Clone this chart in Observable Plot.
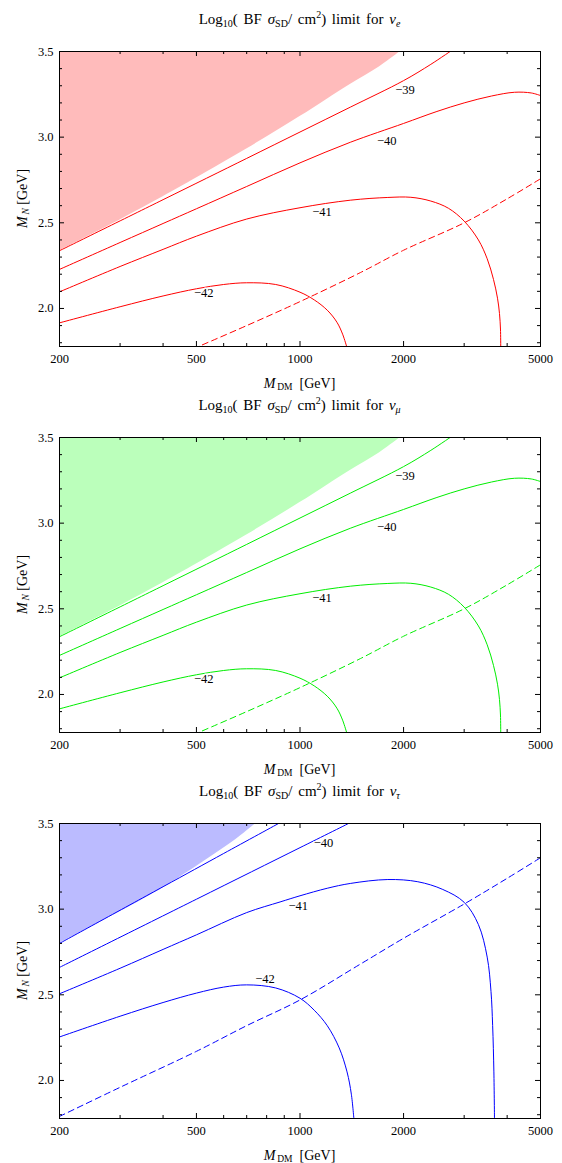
<!DOCTYPE html>
<html><head><meta charset="utf-8">
<script src="https://cdn.jsdelivr.net/npm/d3@7"></script>
<script src="https://cdn.jsdelivr.net/npm/@observablehq/plot@0.6"></script>
<style>
html,body{margin:0;padding:0;background:#fff;overflow:hidden;}
body{padding-top:6px;width:562px;}
.title{height:27px;line-height:27px;margin-left:59px;width:481px;text-align:center;font-family:"Liberation Serif",serif;font-size:15px;white-space:nowrap;word-spacing:2px;}
.title + svg + .title{margin-top:-4px;}
.title sub{font-size:10px;vertical-align:-3px;line-height:0;}
.title sup{font-size:10px;vertical-align:6px;line-height:0;}
svg{display:block;}
</style>
</head><body>
<div id="root"></div>
<script>
const FONT = "Liberation Serif, Times New Roman, serif";
// axes
const xDomain = [200, 5000];
const yDomain = [1.778, 3.5];
const xMajorTicks = [200, 500, 1000, 2000, 5000];
const xMinorTicks = [300, 400, 600, 700, 800, 900, 3000, 4000];
const yMajorTicks = [2.0, 2.5, 3.0, 3.5];
const yMinorTicks = [1.8, 1.9, 2.1, 2.2, 2.3, 2.4, 2.6, 2.7, 2.8, 2.9, 3.1, 3.2, 3.3, 3.4];

// nu_e and nu_mu panels: [M_DM (GeV), log10 M_N]
const eShade = [[200,2.337],[300,2.517],[400,2.652],[500,2.761],[700,2.931],[1000,3.12],[1400,3.308],[1700,3.41],[2000,3.514]];
const e39 = [[200,2.337],[400,2.635],[700,2.876],[1000,3.03],[1400,3.175],[2000,3.33],[2400,3.425],[2800,3.515]];
const e40 = [[200,2.228],[300,2.385],[400,2.496],[500,2.582],[700,2.712],[1000,2.85],[1400,2.97],[2000,3.08],[2500,3.15],[3000,3.20],[3600,3.24],[4200,3.262],[4700,3.258],[5000,3.243]];
const e41 = [[200,2.097],[300,2.245],[400,2.345],[500,2.422],[700,2.522],[1000,2.588],[1400,2.632],[1800,2.648],[2100,2.649],[2400,2.627],[2700,2.585],[3000,2.51],[3300,2.40],[3500,2.29],[3650,2.17],[3750,2.06],[3800,1.97],[3825,1.88],[3832,1.77]];
const e42 = [[200,1.916],[300,2.01],[400,2.073],[500,2.115],[600,2.14],[700,2.15],[850,2.14],[1000,2.095],[1100,2.05],[1200,1.99],[1280,1.92],[1330,1.85],[1370,1.77]];
const eDash = [[490,1.765],[700,1.90],[1000,2.04],[1500,2.21],[2000,2.34],[3000,2.50],[4000,2.64],[5000,2.757]];
const eLabels = [["\u221239",2020,3.277],["\u221240",1786,2.98],["\u221241",1159,2.565],["\u221242",525,2.088]];

// nu_tau panel
const tShade = [[200,2.80],[281,2.955],[393,3.115],[536,3.29],[650,3.405],[750,3.505]];
const t39 = [[200,2.80],[400,3.131],[600,3.325],[870,3.502]];
const t40 = [[200,2.66],[500,3.058],[1000,3.359],[1400,3.505]];
const t41 = [[200,2.506],[300,2.655],[400,2.765],[500,2.85],[700,2.98],[875,3.042],[1000,3.078],[1200,3.122],[1400,3.15],[1800,3.173],[2200,3.16],[2600,3.115],[3000,3.04],[3300,2.91],[3500,2.72],[3590,2.52],[3630,2.32],[3660,2.05],[3675,1.77]];
const t42 = [[200,2.254],[300,2.375],[400,2.455],[500,2.51],[600,2.545],[700,2.558],[850,2.54],[1000,2.48],[1100,2.41],[1200,2.32],[1300,2.19],[1370,2.05],[1410,1.92],[1435,1.77]];
const tDash = [[200,1.79],[300,1.96],[500,2.17],[700,2.32],[1000,2.47],[1500,2.68],[2000,2.83],[3000,3.03],[4000,3.18],[5000,3.30]];
const tLabels = [["\u221240",1170,3.387],["\u221241",989,3.02],["\u221242",791,2.593]];

const flavours = ["e", "\u03bc", "\u03c4"];
const lineColors = ["#ff0000", "#00ee00", "#0000ff"];
const shadeColors = ["#ffbbbb", "#bbffbb", "#bbbbff"];

const panels = [
  {flav: flavours[0], color: lineColors[0], fill: shadeColors[0], shade: eShade, contours: [e39, e40, e41, e42], dash: eDash, labels: eLabels},
  {flav: flavours[1], color: lineColors[1], fill: shadeColors[1], shade: eShade, contours: [e39, e40, e41, e42], dash: eDash, labels: eLabels},
  {flav: flavours[2], color: lineColors[2], fill: shadeColors[2], shade: tShade, contours: [t39, t40, t41, t42], dash: tDash, labels: tLabels}
];

const W = 562, ML = 59, MR = 22, MT = 18, MB = 50, PH = 295;
const PW = W - ML - MR;
const H = MT + PH + MB;

const root = document.getElementById("root");
for (const p of panels) {
  const t = document.createElement("div");
  t.className = "title";
  t.innerHTML = `Log<sub>10</sub>( BF <i>\u03c3</i><sub>SD</sub>/ cm<sup>2</sup>) limit for <i>\u03bd</i><sub><i>${p.flav}</i></sub>`;
  root.appendChild(t);

  const svg = Plot.plot({
    width: W, height: H,
    marginLeft: ML, marginRight: MR, marginTop: MT, marginBottom: MB,
    style: {fontFamily: FONT, fontSize: "12.5px", background: "white", color: "black"},
    x: {type: "log", domain: xDomain},
    y: {domain: yDomain},
    marks: [
      Plot.areaY(p.shade, {x: d => d[0], y1: d => d[1], y2: yDomain[1], fill: p.fill, curve: "catmull-rom", clip: true}),
      ...p.contours.map(c => Plot.line(c, {x: d => d[0], y: d => d[1], stroke: p.color, strokeWidth: 1, curve: "catmull-rom", clip: true})),
      Plot.line(p.dash, {x: d => d[0], y: d => d[1], stroke: p.color, strokeWidth: 1, strokeDasharray: "6,4", curve: "catmull-rom", clip: true}),
      Plot.text(p.labels, {x: d => d[1], y: d => d[2], text: d => d[0], fill: "black", stroke: "white", strokeWidth: 3, fontSize: 12.5, fontFamily: FONT}),
      Plot.frame({stroke: "black", strokeWidth: 1}),
      Plot.tickX(xMajorTicks, {x: d => d, insetTop: PH - 5, stroke: "black"}),
      Plot.tickX(xMajorTicks, {x: d => d, insetBottom: PH - 5, stroke: "black"}),
      Plot.tickX(xMinorTicks, {x: d => d, insetTop: PH - 3, stroke: "black"}),
      Plot.tickX(xMinorTicks, {x: d => d, insetBottom: PH - 3, stroke: "black"}),
      Plot.tickY(yMajorTicks, {y: d => d, insetRight: PW - 5, stroke: "black"}),
      Plot.tickY(yMajorTicks, {y: d => d, insetLeft: PW - 5, stroke: "black"}),
      Plot.tickY(yMinorTicks, {y: d => d, insetRight: PW - 3, stroke: "black"}),
      Plot.tickY(yMinorTicks, {y: d => d, insetLeft: PW - 3, stroke: "black"}),
      Plot.axisX({ticks: xMajorTicks, tickSize: 0, tickPadding: 8, tickFormat: d => String(d), label: null}),
      Plot.axisY({ticks: yMajorTicks, tickSize: 0, tickPadding: 6, tickFormat: d3.format(".1f"), label: null})
    ]
  });

  const s = d3.select(svg);
  const xl = s.append("text").attr("x", ML + PW / 2).attr("y", MT + PH + 42)
    .attr("text-anchor", "middle").attr("font-family", FONT).attr("font-size", 14).attr("fill", "black");
  xl.append("tspan").attr("font-style", "italic").text("M");
  xl.append("tspan").attr("font-size", 9.5).attr("dy", 2).text("\u2009DM");
  xl.append("tspan").attr("dy", -2).text("\u00a0\u00a0[GeV]");

  const yl = s.append("text").attr("transform", `translate(27,${MT + PH / 2}) rotate(-90)`)
    .attr("text-anchor", "middle").attr("font-family", FONT).attr("font-size", 14).attr("fill", "black");
  yl.append("tspan").attr("font-style", "italic").text("M");
  yl.append("tspan").attr("font-size", 9.5).attr("font-style", "italic").attr("dy", 2).text("\u2009N");
  yl.append("tspan").attr("dy", -2).text("\u00a0[GeV]");

  root.appendChild(svg);
}
</script>
</body></html>
